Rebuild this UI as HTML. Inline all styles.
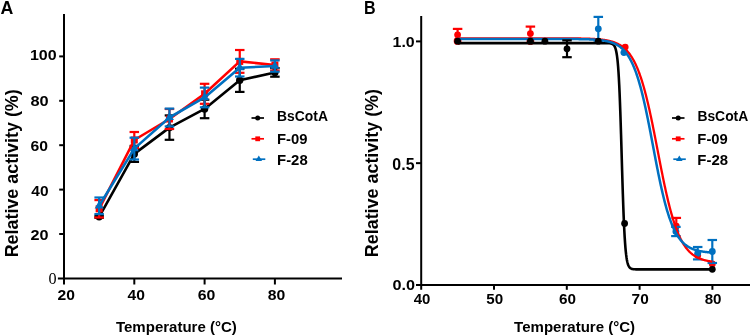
<!DOCTYPE html>
<html><head><meta charset="utf-8"><style>
html,body{margin:0;padding:0;background:#fff;}
svg{display:block;will-change:transform;}
text{font-family:"Liberation Sans",sans-serif;font-weight:bold;fill:#000;}
.tk{font-size:16px;}
.tk0{font-family:"Liberation Serif",serif;font-weight:normal;font-size:16px;}
.pl{font-size:18px;}
.yt{font-size:18px;}
.xt{font-size:15.1px;}
.lg{font-size:14.3px;}
</style></head><body>
<svg width="750" height="336" viewBox="0 0 750 336">
<rect width="750" height="336" fill="#fff"/>
<line x1="64.0" y1="14" x2="64.0" y2="284.5" stroke="#000" stroke-width="2"/>
<line x1="57.9" y1="278.4" x2="342" y2="278.4" stroke="#000" stroke-width="2"/>
<line x1="59.2" y1="234.00" x2="64.0" y2="234.00" stroke="#000" stroke-width="2"/>
<line x1="59.2" y1="189.60" x2="64.0" y2="189.60" stroke="#000" stroke-width="2"/>
<line x1="59.2" y1="145.20" x2="64.0" y2="145.20" stroke="#000" stroke-width="2"/>
<line x1="59.2" y1="100.80" x2="64.0" y2="100.80" stroke="#000" stroke-width="2"/>
<line x1="59.2" y1="56.40" x2="64.0" y2="56.40" stroke="#000" stroke-width="2"/>
<line x1="134.30" y1="278.4" x2="134.30" y2="284.5" stroke="#000" stroke-width="2"/>
<line x1="204.60" y1="278.4" x2="204.60" y2="284.5" stroke="#000" stroke-width="2"/>
<line x1="274.90" y1="278.4" x2="274.90" y2="284.5" stroke="#000" stroke-width="2"/>
<text transform="translate(30.53,240.25) scale(1.0671,1)" style="font-family:'Liberation Sans',sans-serif;font-weight:bold;font-size:15.21px">20</text>
<text transform="translate(31.37,196.05) scale(0.9972,1)" style="font-family:'Liberation Sans',sans-serif;font-weight:bold;font-size:15.49px">40</text>
<text transform="translate(30.45,150.65) scale(1.0258,1)" style="font-family:'Liberation Sans',sans-serif;font-weight:bold;font-size:15.35px">60</text>
<text transform="translate(30.41,106.35) scale(1.0551,1)" style="font-family:'Liberation Sans',sans-serif;font-weight:bold;font-size:15.49px">80</text>
<text transform="translate(29.96,60.45) scale(1.0439,1)" style="font-family:'Liberation Sans',sans-serif;font-weight:bold;font-size:15.35px">100</text>
<text transform="translate(48.45,283.84) scale(1.0119,1)" style="font-family:'Liberation Serif',serif;font-weight:normal;font-size:16.00px">0</text>
<text transform="translate(57.45,300.25) scale(1.0386,1)" style="font-family:'Liberation Sans',sans-serif;font-weight:bold;font-size:15.07px">20</text>
<text transform="translate(127.57,300.35) scale(1.0378,1)" style="font-family:'Liberation Sans',sans-serif;font-weight:bold;font-size:15.07px">40</text>
<text transform="translate(197.65,300.35) scale(1.0514,1)" style="font-family:'Liberation Sans',sans-serif;font-weight:bold;font-size:15.07px">60</text>
<text transform="translate(267.63,300.35) scale(1.0464,1)" style="font-family:'Liberation Sans',sans-serif;font-weight:bold;font-size:15.07px">80</text>
<line x1="421.2" y1="16" x2="421.2" y2="289.8" stroke="#000" stroke-width="2"/>
<line x1="416" y1="284.9" x2="750" y2="284.9" stroke="#000" stroke-width="2"/>
<line x1="416" y1="163.15" x2="421.2" y2="163.15" stroke="#000" stroke-width="2"/>
<line x1="416" y1="41.40" x2="421.2" y2="41.40" stroke="#000" stroke-width="2"/>
<line x1="494.00" y1="284.9" x2="494.00" y2="289.8" stroke="#000" stroke-width="2"/>
<line x1="566.80" y1="284.9" x2="566.80" y2="289.8" stroke="#000" stroke-width="2"/>
<line x1="639.60" y1="284.9" x2="639.60" y2="289.8" stroke="#000" stroke-width="2"/>
<line x1="712.40" y1="284.9" x2="712.40" y2="289.8" stroke="#000" stroke-width="2"/>
<text transform="translate(392.45,289.65) scale(1.0789,1)" style="font-family:'Liberation Sans',sans-serif;font-weight:bold;font-size:15.07px">0.0</text>
<text transform="translate(392.36,169.94) scale(1.0006,1)" style="font-family:'Liberation Sans',sans-serif;font-weight:bold;font-size:15.92px">0.5</text>
<text transform="translate(392.56,47.05) scale(1.0586,1)" style="font-family:'Liberation Sans',sans-serif;font-weight:bold;font-size:15.07px">1.0</text>
<text transform="translate(413.68,303.95) scale(0.9938,1)" style="font-family:'Liberation Sans',sans-serif;font-weight:bold;font-size:15.07px">40</text>
<text transform="translate(486.24,303.95) scale(1.0081,1)" style="font-family:'Liberation Sans',sans-serif;font-weight:bold;font-size:15.07px">50</text>
<text transform="translate(558.97,303.95) scale(1.0130,1)" style="font-family:'Liberation Sans',sans-serif;font-weight:bold;font-size:15.07px">60</text>
<text transform="translate(631.61,303.95) scale(1.0228,1)" style="font-family:'Liberation Sans',sans-serif;font-weight:bold;font-size:15.07px">70</text>
<text transform="translate(704.64,303.95) scale(1.0081,1)" style="font-family:'Liberation Sans',sans-serif;font-weight:bold;font-size:15.07px">80</text>
<text transform="translate(0.56,13.50) scale(0.9500,1)" style="font-family:'Liberation Sans',sans-serif;font-weight:bold;font-size:18.70px">A</text>
<text transform="translate(364.06,13.60) scale(0.8593,1)" style="font-family:'Liberation Sans',sans-serif;font-weight:bold;font-size:18.70px">B</text>
<text transform="translate(18.00,257.36) rotate(-90) scale(0.9654,1)" style="font-family:'Liberation Sans',sans-serif;font-weight:bold;font-size:18.55px">Relative activity (%)</text>
<text transform="translate(378.00,257.16) rotate(-90) scale(0.9660,1)" style="font-family:'Liberation Sans',sans-serif;font-weight:bold;font-size:18.55px">Relative activity (%)</text>
<text transform="translate(115.95,331.75) scale(0.9743,1)" style="font-family:'Liberation Sans',sans-serif;font-weight:bold;font-size:15.43px">Temperature (°C)</text>
<text transform="translate(514.10,331.80) scale(0.9697,1)" style="font-family:'Liberation Sans',sans-serif;font-weight:bold;font-size:15.51px">Temperature (°C)</text>
<polyline points="99.15,216.80 134.30,153.90 169.45,127.60 204.60,108.95 239.75,80.30 274.90,72.40" fill="none" stroke="#000000" stroke-width="2.6" stroke-linejoin="round"/>
<line x1="99.15" y1="215.80" x2="99.15" y2="217.80" stroke="#000000" stroke-width="2.2"/><line x1="94.40" y1="215.80" x2="103.90" y2="215.80" stroke="#000000" stroke-width="2.2"/><line x1="94.40" y1="217.80" x2="103.90" y2="217.80" stroke="#000000" stroke-width="2.2"/>
<circle cx="99.15" cy="216.80" r="3.7" fill="#000000"/>
<line x1="134.30" y1="145.90" x2="134.30" y2="161.90" stroke="#000000" stroke-width="2.2"/><line x1="129.55" y1="145.90" x2="139.05" y2="145.90" stroke="#000000" stroke-width="2.2"/><line x1="129.55" y1="161.90" x2="139.05" y2="161.90" stroke="#000000" stroke-width="2.2"/>
<circle cx="134.30" cy="153.90" r="3.7" fill="#000000"/>
<line x1="169.45" y1="115.40" x2="169.45" y2="139.80" stroke="#000000" stroke-width="2.2"/><line x1="164.70" y1="115.40" x2="174.20" y2="115.40" stroke="#000000" stroke-width="2.2"/><line x1="164.70" y1="139.80" x2="174.20" y2="139.80" stroke="#000000" stroke-width="2.2"/>
<circle cx="169.45" cy="127.60" r="3.7" fill="#000000"/>
<line x1="204.60" y1="99.70" x2="204.60" y2="118.20" stroke="#000000" stroke-width="2.2"/><line x1="199.85" y1="99.70" x2="209.35" y2="99.70" stroke="#000000" stroke-width="2.2"/><line x1="199.85" y1="118.20" x2="209.35" y2="118.20" stroke="#000000" stroke-width="2.2"/>
<circle cx="204.60" cy="108.95" r="3.7" fill="#000000"/>
<line x1="239.75" y1="68.70" x2="239.75" y2="91.90" stroke="#000000" stroke-width="2.2"/><line x1="235.00" y1="68.70" x2="244.50" y2="68.70" stroke="#000000" stroke-width="2.2"/><line x1="235.00" y1="91.90" x2="244.50" y2="91.90" stroke="#000000" stroke-width="2.2"/>
<circle cx="239.75" cy="80.30" r="3.7" fill="#000000"/>
<line x1="274.90" y1="68.10" x2="274.90" y2="76.70" stroke="#000000" stroke-width="2.2"/><line x1="270.15" y1="68.10" x2="279.65" y2="68.10" stroke="#000000" stroke-width="2.2"/><line x1="270.15" y1="76.70" x2="279.65" y2="76.70" stroke="#000000" stroke-width="2.2"/>
<circle cx="274.90" cy="72.40" r="3.7" fill="#000000"/>
<polyline points="99.15,208.80 134.30,140.00 169.45,119.00 204.60,93.80 239.75,61.40 274.90,64.95" fill="none" stroke="#ff0000" stroke-width="2.6" stroke-linejoin="round"/>
<line x1="99.15" y1="200.10" x2="99.15" y2="217.50" stroke="#ff0000" stroke-width="2.2"/><line x1="94.40" y1="200.10" x2="103.90" y2="200.10" stroke="#ff0000" stroke-width="2.2"/><line x1="94.40" y1="217.50" x2="103.90" y2="217.50" stroke="#ff0000" stroke-width="2.2"/>
<rect x="95.65" y="205.30" width="7" height="7" fill="#ff0000"/>
<line x1="134.30" y1="132.00" x2="134.30" y2="148.00" stroke="#ff0000" stroke-width="2.2"/><line x1="129.55" y1="132.00" x2="139.05" y2="132.00" stroke="#ff0000" stroke-width="2.2"/><line x1="129.55" y1="148.00" x2="139.05" y2="148.00" stroke="#ff0000" stroke-width="2.2"/>
<rect x="130.80" y="136.50" width="7" height="7" fill="#ff0000"/>
<line x1="169.45" y1="109.00" x2="169.45" y2="129.00" stroke="#ff0000" stroke-width="2.2"/><line x1="164.70" y1="109.00" x2="174.20" y2="109.00" stroke="#ff0000" stroke-width="2.2"/><line x1="164.70" y1="129.00" x2="174.20" y2="129.00" stroke="#ff0000" stroke-width="2.2"/>
<rect x="165.95" y="115.50" width="7" height="7" fill="#ff0000"/>
<line x1="204.60" y1="83.80" x2="204.60" y2="103.80" stroke="#ff0000" stroke-width="2.2"/><line x1="199.85" y1="83.80" x2="209.35" y2="83.80" stroke="#ff0000" stroke-width="2.2"/><line x1="199.85" y1="103.80" x2="209.35" y2="103.80" stroke="#ff0000" stroke-width="2.2"/>
<rect x="201.10" y="90.30" width="7" height="7" fill="#ff0000"/>
<line x1="239.75" y1="50.00" x2="239.75" y2="72.80" stroke="#ff0000" stroke-width="2.2"/><line x1="235.00" y1="50.00" x2="244.50" y2="50.00" stroke="#ff0000" stroke-width="2.2"/><line x1="235.00" y1="72.80" x2="244.50" y2="72.80" stroke="#ff0000" stroke-width="2.2"/>
<rect x="236.25" y="57.90" width="7" height="7" fill="#ff0000"/>
<line x1="274.90" y1="59.30" x2="274.90" y2="70.60" stroke="#ff0000" stroke-width="2.2"/><line x1="270.15" y1="59.30" x2="279.65" y2="59.30" stroke="#ff0000" stroke-width="2.2"/><line x1="270.15" y1="70.60" x2="279.65" y2="70.60" stroke="#ff0000" stroke-width="2.2"/>
<rect x="271.40" y="61.45" width="7" height="7" fill="#ff0000"/>
<polyline points="99.15,205.80 134.30,148.60 169.45,117.50 204.60,97.45 239.75,67.70 274.90,66.05" fill="none" stroke="#0070c0" stroke-width="2.6" stroke-linejoin="round"/>
<line x1="99.15" y1="197.50" x2="99.15" y2="214.10" stroke="#0070c0" stroke-width="2.2"/><line x1="94.40" y1="197.50" x2="103.90" y2="197.50" stroke="#0070c0" stroke-width="2.2"/><line x1="94.40" y1="214.10" x2="103.90" y2="214.10" stroke="#0070c0" stroke-width="2.2"/>
<polygon points="99.15,200.60 94.65,208.40 103.65,208.40" fill="#0070c0"/>
<line x1="134.30" y1="137.70" x2="134.30" y2="159.50" stroke="#0070c0" stroke-width="2.2"/><line x1="129.55" y1="137.70" x2="139.05" y2="137.70" stroke="#0070c0" stroke-width="2.2"/><line x1="129.55" y1="159.50" x2="139.05" y2="159.50" stroke="#0070c0" stroke-width="2.2"/>
<polygon points="134.30,143.40 129.80,151.20 138.80,151.20" fill="#0070c0"/>
<line x1="169.45" y1="108.60" x2="169.45" y2="126.40" stroke="#0070c0" stroke-width="2.2"/><line x1="164.70" y1="108.60" x2="174.20" y2="108.60" stroke="#0070c0" stroke-width="2.2"/><line x1="164.70" y1="126.40" x2="174.20" y2="126.40" stroke="#0070c0" stroke-width="2.2"/>
<polygon points="169.45,112.30 164.95,120.10 173.95,120.10" fill="#0070c0"/>
<line x1="204.60" y1="87.60" x2="204.60" y2="107.30" stroke="#0070c0" stroke-width="2.2"/><line x1="199.85" y1="87.60" x2="209.35" y2="87.60" stroke="#0070c0" stroke-width="2.2"/><line x1="199.85" y1="107.30" x2="209.35" y2="107.30" stroke="#0070c0" stroke-width="2.2"/>
<polygon points="204.60,92.25 200.10,100.05 209.10,100.05" fill="#0070c0"/>
<line x1="239.75" y1="58.90" x2="239.75" y2="76.50" stroke="#0070c0" stroke-width="2.2"/><line x1="235.00" y1="58.90" x2="244.50" y2="58.90" stroke="#0070c0" stroke-width="2.2"/><line x1="235.00" y1="76.50" x2="244.50" y2="76.50" stroke="#0070c0" stroke-width="2.2"/>
<polygon points="239.75,62.50 235.25,70.30 244.25,70.30" fill="#0070c0"/>
<line x1="274.90" y1="60.40" x2="274.90" y2="71.70" stroke="#0070c0" stroke-width="2.2"/><line x1="270.15" y1="60.40" x2="279.65" y2="60.40" stroke="#0070c0" stroke-width="2.2"/><line x1="270.15" y1="71.70" x2="279.65" y2="71.70" stroke="#0070c0" stroke-width="2.2"/>
<polygon points="274.90,60.85 270.40,68.65 279.40,68.65" fill="#0070c0"/>
<circle cx="457.60" cy="40.90" r="3.9" fill="#ff0000"/>
<circle cx="530.40" cy="40.90" r="3.9" fill="#ff0000"/>
<line x1="457.60" y1="28.90" x2="457.60" y2="34.80" stroke="#ff0000" stroke-width="2.2"/><line x1="452.85" y1="28.90" x2="462.35" y2="28.90" stroke="#ff0000" stroke-width="2.2"/>
<circle cx="457.60" cy="34.80" r="3.4" fill="#ff0000"/>
<line x1="530.40" y1="26.60" x2="530.40" y2="33.60" stroke="#ff0000" stroke-width="2.2"/><line x1="525.65" y1="26.60" x2="535.15" y2="26.60" stroke="#ff0000" stroke-width="2.2"/>
<circle cx="530.40" cy="33.60" r="3.4" fill="#ff0000"/>
<circle cx="625.20" cy="47.10" r="3.4" fill="#ff0000"/>
<line x1="676.30" y1="217.90" x2="676.30" y2="226.20" stroke="#ff0000" stroke-width="2.2"/><line x1="671.55" y1="217.90" x2="681.05" y2="217.90" stroke="#ff0000" stroke-width="2.2"/>
<circle cx="676.30" cy="226.20" r="3.4" fill="#ff0000"/>
<circle cx="697.70" cy="255.50" r="3.4" fill="#ff0000"/>
<circle cx="712.30" cy="264.00" r="3.4" fill="#ff0000"/>
<line x1="598.30" y1="16.90" x2="598.30" y2="40.70" stroke="#0070c0" stroke-width="2.2"/><line x1="593.55" y1="16.90" x2="603.05" y2="16.90" stroke="#0070c0" stroke-width="2.2"/><line x1="593.55" y1="40.70" x2="603.05" y2="40.70" stroke="#0070c0" stroke-width="2.2"/>
<circle cx="598.30" cy="28.80" r="3.4" fill="#0070c0"/>
<circle cx="623.90" cy="52.60" r="3.4" fill="#0070c0"/>
<line x1="675.90" y1="226.90" x2="675.90" y2="236.10" stroke="#0070c0" stroke-width="2.2"/><line x1="671.15" y1="226.90" x2="680.65" y2="226.90" stroke="#0070c0" stroke-width="2.2"/><line x1="671.15" y1="236.10" x2="680.65" y2="236.10" stroke="#0070c0" stroke-width="2.2"/>
<circle cx="675.90" cy="231.50" r="3.4" fill="#0070c0"/>
<line x1="697.70" y1="247.00" x2="697.70" y2="259.40" stroke="#0070c0" stroke-width="2.2"/><line x1="692.95" y1="247.00" x2="702.45" y2="247.00" stroke="#0070c0" stroke-width="2.2"/><line x1="692.95" y1="259.40" x2="702.45" y2="259.40" stroke="#0070c0" stroke-width="2.2"/>
<circle cx="697.70" cy="253.20" r="3.4" fill="#0070c0"/>
<line x1="712.30" y1="240.00" x2="712.30" y2="263.00" stroke="#0070c0" stroke-width="2.2"/><line x1="707.55" y1="240.00" x2="717.05" y2="240.00" stroke="#0070c0" stroke-width="2.2"/><line x1="707.55" y1="263.00" x2="717.05" y2="263.00" stroke="#0070c0" stroke-width="2.2"/>
<circle cx="712.30" cy="251.50" r="3.4" fill="#0070c0"/>
<polyline points="457.60,43.15 457.96,43.15 458.33,43.15 458.69,43.15 459.06,43.15 459.42,43.15 459.78,43.15 460.15,43.15 460.51,43.15 460.88,43.15 461.24,43.15 461.60,43.15 461.97,43.15 462.33,43.15 462.70,43.15 463.06,43.15 463.42,43.15 463.79,43.15 464.15,43.15 464.52,43.15 464.88,43.15 465.24,43.15 465.61,43.15 465.97,43.15 466.34,43.15 466.70,43.15 467.06,43.15 467.43,43.15 467.79,43.15 468.16,43.15 468.52,43.15 468.88,43.15 469.25,43.15 469.61,43.15 469.98,43.15 470.34,43.15 470.70,43.15 471.07,43.15 471.43,43.15 471.80,43.15 472.16,43.15 472.52,43.15 472.89,43.15 473.25,43.15 473.62,43.15 473.98,43.15 474.34,43.15 474.71,43.15 475.07,43.15 475.44,43.15 475.80,43.15 476.16,43.15 476.53,43.15 476.89,43.15 477.26,43.15 477.62,43.15 477.98,43.15 478.35,43.15 478.71,43.15 479.08,43.15 479.44,43.15 479.80,43.15 480.17,43.15 480.53,43.15 480.90,43.15 481.26,43.15 481.62,43.15 481.99,43.15 482.35,43.15 482.72,43.15 483.08,43.15 483.44,43.15 483.81,43.15 484.17,43.15 484.54,43.15 484.90,43.15 485.26,43.15 485.63,43.15 485.99,43.15 486.36,43.15 486.72,43.15 487.08,43.15 487.45,43.15 487.81,43.15 488.18,43.15 488.54,43.15 488.90,43.15 489.27,43.15 489.63,43.15 490.00,43.15 490.36,43.15 490.72,43.15 491.09,43.15 491.45,43.15 491.82,43.15 492.18,43.15 492.54,43.15 492.91,43.15 493.27,43.15 493.64,43.15 494.00,43.15 494.36,43.15 494.73,43.15 495.09,43.15 495.46,43.15 495.82,43.15 496.18,43.15 496.55,43.15 496.91,43.15 497.28,43.15 497.64,43.15 498.00,43.15 498.37,43.15 498.73,43.15 499.10,43.15 499.46,43.15 499.82,43.15 500.19,43.15 500.55,43.15 500.92,43.15 501.28,43.15 501.64,43.15 502.01,43.15 502.37,43.15 502.74,43.15 503.10,43.15 503.46,43.15 503.83,43.15 504.19,43.15 504.56,43.15 504.92,43.15 505.28,43.15 505.65,43.15 506.01,43.15 506.38,43.15 506.74,43.15 507.10,43.15 507.47,43.15 507.83,43.15 508.20,43.15 508.56,43.15 508.92,43.15 509.29,43.15 509.65,43.15 510.02,43.15 510.38,43.15 510.74,43.15 511.11,43.15 511.47,43.15 511.84,43.15 512.20,43.15 512.56,43.15 512.93,43.15 513.29,43.15 513.66,43.15 514.02,43.15 514.38,43.15 514.75,43.15 515.11,43.15 515.48,43.15 515.84,43.15 516.20,43.15 516.57,43.15 516.93,43.15 517.30,43.15 517.66,43.15 518.02,43.15 518.39,43.15 518.75,43.15 519.12,43.15 519.48,43.15 519.84,43.15 520.21,43.15 520.57,43.15 520.94,43.15 521.30,43.15 521.66,43.15 522.03,43.15 522.39,43.15 522.76,43.15 523.12,43.15 523.48,43.15 523.85,43.15 524.21,43.15 524.58,43.15 524.94,43.15 525.30,43.15 525.67,43.15 526.03,43.15 526.40,43.15 526.76,43.15 527.12,43.15 527.49,43.15 527.85,43.15 528.22,43.15 528.58,43.15 528.94,43.15 529.31,43.15 529.67,43.15 530.04,43.15 530.40,43.15 530.76,43.15 531.13,43.15 531.49,43.15 531.86,43.15 532.22,43.15 532.58,43.15 532.95,43.15 533.31,43.15 533.68,43.15 534.04,43.15 534.40,43.15 534.77,43.15 535.13,43.15 535.50,43.15 535.86,43.15 536.22,43.15 536.59,43.15 536.95,43.15 537.32,43.15 537.68,43.15 538.04,43.15 538.41,43.15 538.77,43.15 539.14,43.15 539.50,43.15 539.86,43.15 540.23,43.15 540.59,43.15 540.96,43.15 541.32,43.15 541.68,43.15 542.05,43.15 542.41,43.15 542.78,43.15 543.14,43.15 543.50,43.15 543.87,43.15 544.23,43.15 544.60,43.15 544.96,43.15 545.32,43.15 545.69,43.15 546.05,43.15 546.42,43.15 546.78,43.15 547.14,43.15 547.51,43.15 547.87,43.15 548.24,43.15 548.60,43.15 548.96,43.15 549.33,43.15 549.69,43.15 550.06,43.15 550.42,43.15 550.78,43.15 551.15,43.15 551.51,43.15 551.88,43.15 552.24,43.15 552.60,43.15 552.97,43.15 553.33,43.15 553.70,43.15 554.06,43.15 554.42,43.15 554.79,43.15 555.15,43.15 555.52,43.15 555.88,43.15 556.24,43.15 556.61,43.15 556.97,43.15 557.34,43.15 557.70,43.15 558.06,43.15 558.43,43.15 558.79,43.15 559.16,43.15 559.52,43.15 559.88,43.15 560.25,43.15 560.61,43.15 560.98,43.15 561.34,43.15 561.70,43.15 562.07,43.15 562.43,43.15 562.80,43.15 563.16,43.15 563.52,43.15 563.89,43.15 564.25,43.15 564.62,43.15 564.98,43.15 565.34,43.15 565.71,43.15 566.07,43.15 566.44,43.15 566.80,43.15 567.16,43.15 567.53,43.15 567.89,43.15 568.26,43.15 568.62,43.15 568.98,43.15 569.35,43.15 569.71,43.15 570.08,43.15 570.44,43.15 570.80,43.15 571.17,43.15 571.53,43.15 571.90,43.15 572.26,43.15 572.62,43.15 572.99,43.15 573.35,43.15 573.72,43.15 574.08,43.15 574.44,43.15 574.81,43.15 575.17,43.15 575.54,43.15 575.90,43.15 576.26,43.15 576.63,43.15 576.99,43.15 577.36,43.15 577.72,43.15 578.08,43.15 578.45,43.15 578.81,43.15 579.18,43.15 579.54,43.15 579.90,43.15 580.27,43.15 580.63,43.15 581.00,43.15 581.36,43.15 581.72,43.15 582.09,43.15 582.45,43.15 582.82,43.15 583.18,43.15 583.54,43.15 583.91,43.15 584.27,43.15 584.64,43.15 585.00,43.15 585.36,43.15 585.73,43.15 586.09,43.15 586.46,43.15 586.82,43.15 587.18,43.15 587.55,43.15 587.91,43.15 588.28,43.15 588.64,43.15 589.00,43.15 589.37,43.15 589.73,43.15 590.10,43.15 590.46,43.15 590.82,43.15 591.19,43.15 591.55,43.15 591.92,43.15 592.28,43.15 592.64,43.15 593.01,43.15 593.37,43.15 593.74,43.15 594.10,43.15 594.46,43.15 594.83,43.15 595.19,43.15 595.56,43.15 595.92,43.15 596.28,43.15 596.65,43.15 597.01,43.15 597.38,43.15 597.74,43.15 598.10,43.15 598.47,43.15 598.83,43.15 599.20,43.15 599.56,43.15 599.92,43.15 600.29,43.15 600.65,43.15 601.02,43.15 601.38,43.15 601.74,43.15 602.11,43.15 602.47,43.16 602.84,43.16 603.20,43.16 603.56,43.16 603.93,43.16 604.29,43.16 604.66,43.16 605.02,43.16 605.38,43.17 605.75,43.17 606.11,43.17 606.48,43.18 606.84,43.18 607.20,43.19 607.57,43.20 607.93,43.21 608.30,43.23 608.66,43.24 609.02,43.27 609.39,43.29 609.75,43.33 610.12,43.37 610.48,43.42 610.84,43.49 611.21,43.57 611.57,43.67 611.94,43.80 612.30,43.96 612.66,44.15 613.03,44.39 613.39,44.69 613.76,45.07 614.12,45.53 614.48,46.10 614.85,46.81 615.21,47.69 615.58,48.77 615.94,50.10 616.30,51.73 616.67,53.72 617.03,56.16 617.40,59.11 617.76,62.67 618.12,66.93 618.49,72.00 618.85,77.96 619.22,84.90 619.58,92.85 619.94,101.84 620.31,111.83 620.67,122.70 621.04,134.31 621.40,146.41 621.76,158.74 622.13,171.02 622.49,182.95 622.86,194.29 623.22,204.82 623.58,214.42 623.95,222.99 624.31,230.54 624.68,237.08 625.04,242.67 625.40,247.40 625.77,251.38 626.13,254.68 626.50,257.42 626.86,259.67 627.22,261.51 627.59,263.01 627.95,264.23 628.32,265.23 628.68,266.03 629.04,266.68 629.41,267.21 629.77,267.63 630.14,267.98 630.50,268.25 630.86,268.47 631.23,268.65 631.59,268.80 631.96,268.91 632.32,269.01 632.68,269.08 633.05,269.14 633.41,269.19 633.78,269.23 634.14,269.26 634.50,269.29 634.87,269.31 635.23,269.32 635.60,269.34 635.96,269.35 636.32,269.35 636.69,269.36 637.05,269.37 637.42,269.37 637.78,269.37 638.14,269.38 638.51,269.38 638.87,269.38 639.24,269.38 639.60,269.38 639.96,269.39 640.33,269.39 640.69,269.39 641.06,269.39 641.42,269.39 641.78,269.39 642.15,269.39 642.51,269.39 642.88,269.39 643.24,269.39 643.60,269.39 643.97,269.39 644.33,269.39 644.70,269.39 645.06,269.39 645.42,269.39 645.79,269.39 646.15,269.39 646.52,269.39 646.88,269.39 647.24,269.39 647.61,269.39 647.97,269.39 648.34,269.39 648.70,269.39 649.06,269.39 649.43,269.39 649.79,269.39 650.16,269.39 650.52,269.39 650.88,269.39 651.25,269.39 651.61,269.39 651.98,269.39 652.34,269.39 652.70,269.39 653.07,269.39 653.43,269.39 653.80,269.39 654.16,269.39 654.52,269.39 654.89,269.39 655.25,269.39 655.62,269.39 655.98,269.39 656.34,269.39 656.71,269.39 657.07,269.39 657.44,269.39 657.80,269.39 658.16,269.39 658.53,269.39 658.89,269.39 659.26,269.39 659.62,269.39 659.98,269.39 660.35,269.39 660.71,269.39 661.08,269.39 661.44,269.39 661.80,269.39 662.17,269.39 662.53,269.39 662.90,269.39 663.26,269.39 663.62,269.39 663.99,269.39 664.35,269.39 664.72,269.39 665.08,269.39 665.44,269.39 665.81,269.39 666.17,269.39 666.54,269.39 666.90,269.39 667.26,269.39 667.63,269.39 667.99,269.39 668.36,269.39 668.72,269.39 669.08,269.39 669.45,269.39 669.81,269.39 670.18,269.39 670.54,269.39 670.90,269.39 671.27,269.39 671.63,269.39 672.00,269.39 672.36,269.39 672.72,269.39 673.09,269.39 673.45,269.39 673.82,269.39 674.18,269.39 674.54,269.39 674.91,269.39 675.27,269.39 675.64,269.39 676.00,269.39 676.36,269.39 676.73,269.39 677.09,269.39 677.46,269.39 677.82,269.39 678.18,269.39 678.55,269.39 678.91,269.39 679.28,269.39 679.64,269.39 680.00,269.39 680.37,269.39 680.73,269.39 681.10,269.39 681.46,269.39 681.82,269.39 682.19,269.39 682.55,269.39 682.92,269.39 683.28,269.39 683.64,269.39 684.01,269.39 684.37,269.39 684.74,269.39 685.10,269.39 685.46,269.39 685.83,269.39 686.19,269.39 686.56,269.39 686.92,269.39 687.28,269.39 687.65,269.39 688.01,269.39 688.38,269.39 688.74,269.39 689.10,269.39 689.47,269.39 689.83,269.39 690.20,269.39 690.56,269.39 690.92,269.39 691.29,269.39 691.65,269.39 692.02,269.39 692.38,269.39 692.74,269.39 693.11,269.39 693.47,269.39 693.84,269.39 694.20,269.39 694.56,269.39 694.93,269.39 695.29,269.39 695.66,269.39 696.02,269.39 696.38,269.39 696.75,269.39 697.11,269.39 697.48,269.39 697.84,269.39 698.20,269.39 698.57,269.39 698.93,269.39 699.30,269.39 699.66,269.39 700.02,269.39 700.39,269.39 700.75,269.39 701.12,269.39 701.48,269.39 701.84,269.39 702.21,269.39 702.57,269.39 702.94,269.39 703.30,269.39 703.66,269.39 704.03,269.39 704.39,269.39 704.76,269.39 705.12,269.39 705.48,269.39 705.85,269.39 706.21,269.39 706.58,269.39 706.94,269.39 707.30,269.39 707.67,269.39 708.03,269.39 708.40,269.39 708.76,269.39 709.12,269.39 709.49,269.39 709.85,269.39 710.22,269.39 710.58,269.39 710.94,269.39 711.31,269.39 711.67,269.39 712.04,269.39 712.40,269.39" fill="none" stroke="#000000" stroke-width="2.6"/>
<polyline points="457.60,38.33 457.96,38.33 458.33,38.33 458.69,38.33 459.06,38.33 459.42,38.33 459.78,38.33 460.15,38.33 460.51,38.33 460.88,38.33 461.24,38.33 461.60,38.33 461.97,38.33 462.33,38.33 462.70,38.33 463.06,38.33 463.42,38.33 463.79,38.33 464.15,38.33 464.52,38.33 464.88,38.33 465.24,38.33 465.61,38.33 465.97,38.33 466.34,38.33 466.70,38.33 467.06,38.33 467.43,38.33 467.79,38.33 468.16,38.33 468.52,38.33 468.88,38.33 469.25,38.33 469.61,38.33 469.98,38.33 470.34,38.33 470.70,38.33 471.07,38.33 471.43,38.33 471.80,38.33 472.16,38.33 472.52,38.33 472.89,38.33 473.25,38.33 473.62,38.33 473.98,38.33 474.34,38.33 474.71,38.33 475.07,38.33 475.44,38.33 475.80,38.33 476.16,38.33 476.53,38.33 476.89,38.33 477.26,38.33 477.62,38.33 477.98,38.33 478.35,38.33 478.71,38.33 479.08,38.33 479.44,38.33 479.80,38.33 480.17,38.33 480.53,38.33 480.90,38.33 481.26,38.33 481.62,38.33 481.99,38.33 482.35,38.33 482.72,38.33 483.08,38.33 483.44,38.33 483.81,38.33 484.17,38.33 484.54,38.33 484.90,38.33 485.26,38.33 485.63,38.33 485.99,38.33 486.36,38.33 486.72,38.33 487.08,38.33 487.45,38.33 487.81,38.33 488.18,38.33 488.54,38.33 488.90,38.33 489.27,38.33 489.63,38.33 490.00,38.33 490.36,38.33 490.72,38.33 491.09,38.33 491.45,38.33 491.82,38.33 492.18,38.33 492.54,38.33 492.91,38.33 493.27,38.33 493.64,38.33 494.00,38.33 494.36,38.33 494.73,38.33 495.09,38.33 495.46,38.33 495.82,38.33 496.18,38.33 496.55,38.33 496.91,38.33 497.28,38.33 497.64,38.33 498.00,38.33 498.37,38.33 498.73,38.33 499.10,38.33 499.46,38.33 499.82,38.33 500.19,38.33 500.55,38.33 500.92,38.33 501.28,38.33 501.64,38.33 502.01,38.33 502.37,38.33 502.74,38.33 503.10,38.33 503.46,38.33 503.83,38.33 504.19,38.33 504.56,38.33 504.92,38.33 505.28,38.33 505.65,38.33 506.01,38.33 506.38,38.33 506.74,38.33 507.10,38.33 507.47,38.33 507.83,38.33 508.20,38.33 508.56,38.33 508.92,38.33 509.29,38.33 509.65,38.33 510.02,38.33 510.38,38.33 510.74,38.33 511.11,38.33 511.47,38.33 511.84,38.33 512.20,38.33 512.56,38.33 512.93,38.33 513.29,38.33 513.66,38.33 514.02,38.33 514.38,38.33 514.75,38.33 515.11,38.33 515.48,38.33 515.84,38.33 516.20,38.33 516.57,38.33 516.93,38.33 517.30,38.33 517.66,38.33 518.02,38.33 518.39,38.33 518.75,38.33 519.12,38.33 519.48,38.33 519.84,38.33 520.21,38.33 520.57,38.33 520.94,38.33 521.30,38.33 521.66,38.33 522.03,38.33 522.39,38.33 522.76,38.33 523.12,38.33 523.48,38.33 523.85,38.33 524.21,38.33 524.58,38.33 524.94,38.33 525.30,38.33 525.67,38.33 526.03,38.33 526.40,38.33 526.76,38.33 527.12,38.33 527.49,38.33 527.85,38.33 528.22,38.33 528.58,38.33 528.94,38.33 529.31,38.33 529.67,38.33 530.04,38.33 530.40,38.33 530.76,38.33 531.13,38.33 531.49,38.33 531.86,38.33 532.22,38.33 532.58,38.33 532.95,38.33 533.31,38.33 533.68,38.33 534.04,38.33 534.40,38.33 534.77,38.33 535.13,38.33 535.50,38.33 535.86,38.33 536.22,38.33 536.59,38.34 536.95,38.34 537.32,38.34 537.68,38.34 538.04,38.34 538.41,38.34 538.77,38.34 539.14,38.34 539.50,38.34 539.86,38.34 540.23,38.34 540.59,38.34 540.96,38.34 541.32,38.34 541.68,38.34 542.05,38.34 542.41,38.34 542.78,38.34 543.14,38.34 543.50,38.34 543.87,38.34 544.23,38.34 544.60,38.34 544.96,38.34 545.32,38.34 545.69,38.34 546.05,38.34 546.42,38.34 546.78,38.34 547.14,38.34 547.51,38.34 547.87,38.34 548.24,38.34 548.60,38.34 548.96,38.34 549.33,38.34 549.69,38.34 550.06,38.34 550.42,38.34 550.78,38.34 551.15,38.34 551.51,38.34 551.88,38.34 552.24,38.35 552.60,38.35 552.97,38.35 553.33,38.35 553.70,38.35 554.06,38.35 554.42,38.35 554.79,38.35 555.15,38.35 555.52,38.35 555.88,38.35 556.24,38.35 556.61,38.35 556.97,38.35 557.34,38.35 557.70,38.35 558.06,38.35 558.43,38.36 558.79,38.36 559.16,38.36 559.52,38.36 559.88,38.36 560.25,38.36 560.61,38.36 560.98,38.36 561.34,38.36 561.70,38.36 562.07,38.37 562.43,38.37 562.80,38.37 563.16,38.37 563.52,38.37 563.89,38.37 564.25,38.37 564.62,38.37 564.98,38.38 565.34,38.38 565.71,38.38 566.07,38.38 566.44,38.38 566.80,38.38 567.16,38.39 567.53,38.39 567.89,38.39 568.26,38.39 568.62,38.39 568.98,38.40 569.35,38.40 569.71,38.40 570.08,38.40 570.44,38.40 570.80,38.41 571.17,38.41 571.53,38.41 571.90,38.41 572.26,38.42 572.62,38.42 572.99,38.42 573.35,38.43 573.72,38.43 574.08,38.43 574.44,38.44 574.81,38.44 575.17,38.44 575.54,38.45 575.90,38.45 576.26,38.46 576.63,38.46 576.99,38.46 577.36,38.47 577.72,38.47 578.08,38.48 578.45,38.48 578.81,38.49 579.18,38.49 579.54,38.50 579.90,38.50 580.27,38.51 580.63,38.52 581.00,38.52 581.36,38.53 581.72,38.54 582.09,38.54 582.45,38.55 582.82,38.56 583.18,38.57 583.54,38.57 583.91,38.58 584.27,38.59 584.64,38.60 585.00,38.61 585.36,38.62 585.73,38.63 586.09,38.64 586.46,38.65 586.82,38.66 587.18,38.67 587.55,38.68 587.91,38.69 588.28,38.71 588.64,38.72 589.00,38.73 589.37,38.74 589.73,38.76 590.10,38.77 590.46,38.79 590.82,38.80 591.19,38.82 591.55,38.84 591.92,38.85 592.28,38.87 592.64,38.89 593.01,38.91 593.37,38.93 593.74,38.95 594.10,38.97 594.46,38.99 594.83,39.01 595.19,39.04 595.56,39.06 595.92,39.09 596.28,39.11 596.65,39.14 597.01,39.17 597.38,39.19 597.74,39.22 598.10,39.25 598.47,39.28 598.83,39.32 599.20,39.35 599.56,39.38 599.92,39.42 600.29,39.46 600.65,39.50 601.02,39.53 601.38,39.58 601.74,39.62 602.11,39.66 602.47,39.71 602.84,39.75 603.20,39.80 603.56,39.85 603.93,39.90 604.29,39.96 604.66,40.01 605.02,40.07 605.38,40.13 605.75,40.19 606.11,40.25 606.48,40.32 606.84,40.38 607.20,40.45 607.57,40.52 607.93,40.60 608.30,40.67 608.66,40.75 609.02,40.83 609.39,40.92 609.75,41.01 610.12,41.10 610.48,41.19 610.84,41.29 611.21,41.39 611.57,41.49 611.94,41.59 612.30,41.70 612.66,41.82 613.03,41.93 613.39,42.05 613.76,42.18 614.12,42.31 614.48,42.44 614.85,42.58 615.21,42.72 615.58,42.87 615.94,43.02 616.30,43.18 616.67,43.34 617.03,43.51 617.40,43.68 617.76,43.86 618.12,44.04 618.49,44.23 618.85,44.42 619.22,44.63 619.58,44.84 619.94,45.05 620.31,45.27 620.67,45.50 621.04,45.74 621.40,45.98 621.76,46.23 622.13,46.49 622.49,46.76 622.86,47.04 623.22,47.32 623.58,47.62 623.95,47.92 624.31,48.24 624.68,48.56 625.04,48.89 625.40,49.23 625.77,49.59 626.13,49.95 626.50,50.33 626.86,50.71 627.22,51.11 627.59,51.52 627.95,51.94 628.32,52.38 628.68,52.83 629.04,53.29 629.41,53.77 629.77,54.26 630.14,54.76 630.50,55.28 630.86,55.81 631.23,56.36 631.59,56.92 631.96,57.50 632.32,58.10 632.68,58.71 633.05,59.34 633.41,59.99 633.78,60.66 634.14,61.34 634.50,62.05 634.87,62.77 635.23,63.51 635.60,64.27 635.96,65.05 636.32,65.85 636.69,66.67 637.05,67.51 637.42,68.37 637.78,69.26 638.14,70.16 638.51,71.09 638.87,72.04 639.24,73.01 639.60,74.01 639.96,75.03 640.33,76.07 640.69,77.13 641.06,78.22 641.42,79.34 641.78,80.47 642.15,81.63 642.51,82.82 642.88,84.03 643.24,85.26 643.60,86.52 643.97,87.80 644.33,89.11 644.70,90.44 645.06,91.80 645.42,93.18 645.79,94.58 646.15,96.01 646.52,97.46 646.88,98.93 647.24,100.43 647.61,101.95 647.97,103.49 648.34,105.05 648.70,106.64 649.06,108.24 649.43,109.87 649.79,111.52 650.16,113.18 650.52,114.87 650.88,116.57 651.25,118.29 651.61,120.03 651.98,121.78 652.34,123.55 652.70,125.33 653.07,127.13 653.43,128.94 653.80,130.76 654.16,132.59 654.52,134.43 654.89,136.28 655.25,138.14 655.62,140.00 655.98,141.87 656.34,143.75 656.71,145.63 657.07,147.51 657.44,149.40 657.80,151.29 658.16,153.17 658.53,155.05 658.89,156.94 659.26,158.81 659.62,160.69 659.98,162.56 660.35,164.42 660.71,166.27 661.08,168.12 661.44,169.95 661.80,171.78 662.17,173.59 662.53,175.39 662.90,177.18 663.26,178.95 663.62,180.71 663.99,182.46 664.35,184.18 664.72,185.89 665.08,187.58 665.44,189.26 665.81,190.91 666.17,192.55 666.54,194.16 666.90,195.75 667.26,197.33 667.63,198.88 667.99,200.41 668.36,201.91 668.72,203.39 669.08,204.85 669.45,206.29 669.81,207.70 670.18,209.09 670.54,210.46 670.90,211.80 671.27,213.11 671.63,214.41 672.00,215.67 672.36,216.92 672.72,218.14 673.09,219.33 673.45,220.50 673.82,221.65 674.18,222.77 674.54,223.87 674.91,224.95 675.27,226.00 675.64,227.03 676.00,228.03 676.36,229.01 676.73,229.97 677.09,230.91 677.46,231.82 677.82,232.72 678.18,233.59 678.55,234.44 678.91,235.27 679.28,236.07 679.64,236.86 680.00,237.63 680.37,238.38 680.73,239.11 681.10,239.82 681.46,240.51 681.82,241.18 682.19,241.84 682.55,242.47 682.92,243.09 683.28,243.70 683.64,244.28 684.01,244.86 684.37,245.41 684.74,245.95 685.10,246.47 685.46,246.98 685.83,247.48 686.19,247.96 686.56,248.43 686.92,248.88 687.28,249.32 687.65,249.75 688.01,250.16 688.38,250.57 688.74,250.96 689.10,251.34 689.47,251.71 689.83,252.07 690.20,252.41 690.56,252.75 690.92,253.08 691.29,253.39 691.65,253.70 692.02,254.00 692.38,254.29 692.74,254.57 693.11,254.84 693.47,255.10 693.84,255.36 694.20,255.60 694.56,255.84 694.93,256.08 695.29,256.30 695.66,256.52 696.02,256.73 696.38,256.93 696.75,257.13 697.11,257.32 697.48,257.51 697.84,257.69 698.20,257.87 698.57,258.03 698.93,258.20 699.30,258.36 699.66,258.51 700.02,258.66 700.39,258.80 700.75,258.94 701.12,259.08 701.48,259.21 701.84,259.33 702.21,259.46 702.57,259.58 702.94,259.69 703.30,259.80 703.66,259.91 704.03,260.01 704.39,260.11 704.76,260.21 705.12,260.31 705.48,260.40 705.85,260.49 706.21,260.57 706.58,260.65 706.94,260.73 707.30,260.81 707.67,260.89 708.03,260.96 708.40,261.03 708.76,261.10 709.12,261.16 709.49,261.23 709.85,261.29 710.22,261.35 710.58,261.40 710.94,261.46 711.31,261.51 711.67,261.57 712.04,261.62 712.40,261.67" fill="none" stroke="#ff0000" stroke-width="2.3"/>
<polyline points="457.60,38.99 457.96,38.99 458.33,38.99 458.69,38.99 459.06,38.99 459.42,38.99 459.78,38.99 460.15,38.99 460.51,38.99 460.88,38.99 461.24,38.99 461.60,38.99 461.97,38.99 462.33,38.99 462.70,38.99 463.06,38.99 463.42,38.99 463.79,38.99 464.15,38.99 464.52,38.99 464.88,38.99 465.24,38.99 465.61,38.99 465.97,38.99 466.34,38.99 466.70,38.99 467.06,38.99 467.43,38.99 467.79,38.99 468.16,38.99 468.52,38.99 468.88,38.99 469.25,38.99 469.61,38.99 469.98,38.99 470.34,38.99 470.70,38.99 471.07,38.99 471.43,38.99 471.80,38.99 472.16,38.99 472.52,38.99 472.89,38.99 473.25,38.99 473.62,38.99 473.98,38.99 474.34,38.99 474.71,38.99 475.07,38.99 475.44,38.99 475.80,38.99 476.16,38.99 476.53,38.99 476.89,38.99 477.26,38.99 477.62,38.99 477.98,38.99 478.35,38.99 478.71,38.99 479.08,38.99 479.44,38.99 479.80,38.99 480.17,38.99 480.53,38.99 480.90,38.99 481.26,38.99 481.62,38.99 481.99,38.99 482.35,38.99 482.72,38.99 483.08,38.99 483.44,38.99 483.81,38.99 484.17,38.99 484.54,38.99 484.90,38.99 485.26,38.99 485.63,38.99 485.99,38.99 486.36,38.99 486.72,38.99 487.08,38.99 487.45,38.99 487.81,38.99 488.18,38.99 488.54,38.99 488.90,38.99 489.27,38.99 489.63,38.99 490.00,38.99 490.36,38.99 490.72,38.99 491.09,38.99 491.45,38.99 491.82,38.99 492.18,38.99 492.54,38.99 492.91,38.99 493.27,38.99 493.64,38.99 494.00,38.99 494.36,38.99 494.73,38.99 495.09,38.99 495.46,38.99 495.82,38.99 496.18,38.99 496.55,38.99 496.91,38.99 497.28,38.99 497.64,38.99 498.00,38.99 498.37,38.99 498.73,38.99 499.10,38.99 499.46,38.99 499.82,38.99 500.19,38.99 500.55,38.99 500.92,38.99 501.28,38.99 501.64,38.99 502.01,38.99 502.37,38.99 502.74,38.99 503.10,38.99 503.46,38.99 503.83,38.99 504.19,38.99 504.56,38.99 504.92,38.99 505.28,38.99 505.65,38.99 506.01,38.99 506.38,38.99 506.74,38.99 507.10,38.99 507.47,38.99 507.83,38.99 508.20,38.99 508.56,38.99 508.92,38.99 509.29,38.99 509.65,38.99 510.02,38.99 510.38,38.99 510.74,38.99 511.11,38.99 511.47,38.99 511.84,38.99 512.20,38.99 512.56,38.99 512.93,38.99 513.29,38.99 513.66,38.99 514.02,38.99 514.38,38.99 514.75,38.99 515.11,38.99 515.48,38.99 515.84,38.99 516.20,38.99 516.57,38.99 516.93,38.99 517.30,38.99 517.66,38.99 518.02,38.99 518.39,38.99 518.75,38.99 519.12,38.99 519.48,38.99 519.84,38.99 520.21,38.99 520.57,38.99 520.94,38.99 521.30,38.99 521.66,38.99 522.03,38.99 522.39,38.99 522.76,38.99 523.12,38.99 523.48,38.99 523.85,38.99 524.21,38.99 524.58,38.99 524.94,38.99 525.30,38.99 525.67,38.99 526.03,38.99 526.40,38.99 526.76,38.99 527.12,38.99 527.49,38.99 527.85,38.99 528.22,38.99 528.58,38.99 528.94,38.99 529.31,38.99 529.67,38.99 530.04,38.99 530.40,38.99 530.76,38.99 531.13,38.99 531.49,38.99 531.86,38.99 532.22,38.99 532.58,38.99 532.95,38.99 533.31,38.99 533.68,38.99 534.04,38.99 534.40,38.99 534.77,38.99 535.13,38.99 535.50,38.99 535.86,38.99 536.22,38.99 536.59,38.99 536.95,38.99 537.32,38.99 537.68,38.99 538.04,38.99 538.41,38.99 538.77,38.99 539.14,38.99 539.50,38.99 539.86,38.99 540.23,38.99 540.59,38.99 540.96,38.99 541.32,38.99 541.68,38.99 542.05,38.99 542.41,38.99 542.78,38.99 543.14,38.99 543.50,38.99 543.87,38.99 544.23,38.99 544.60,38.99 544.96,38.99 545.32,38.99 545.69,38.99 546.05,38.99 546.42,38.99 546.78,39.00 547.14,39.00 547.51,39.00 547.87,39.00 548.24,39.00 548.60,39.00 548.96,39.00 549.33,39.00 549.69,39.00 550.06,39.00 550.42,39.00 550.78,39.00 551.15,39.00 551.51,39.00 551.88,39.00 552.24,39.00 552.60,39.00 552.97,39.00 553.33,39.00 553.70,39.00 554.06,39.00 554.42,39.00 554.79,39.00 555.15,39.00 555.52,39.00 555.88,39.00 556.24,39.00 556.61,39.00 556.97,39.01 557.34,39.01 557.70,39.01 558.06,39.01 558.43,39.01 558.79,39.01 559.16,39.01 559.52,39.01 559.88,39.01 560.25,39.01 560.61,39.01 560.98,39.01 561.34,39.01 561.70,39.01 562.07,39.02 562.43,39.02 562.80,39.02 563.16,39.02 563.52,39.02 563.89,39.02 564.25,39.02 564.62,39.02 564.98,39.02 565.34,39.03 565.71,39.03 566.07,39.03 566.44,39.03 566.80,39.03 567.16,39.03 567.53,39.03 567.89,39.04 568.26,39.04 568.62,39.04 568.98,39.04 569.35,39.04 569.71,39.05 570.08,39.05 570.44,39.05 570.80,39.05 571.17,39.05 571.53,39.06 571.90,39.06 572.26,39.06 572.62,39.06 572.99,39.07 573.35,39.07 573.72,39.07 574.08,39.08 574.44,39.08 574.81,39.08 575.17,39.09 575.54,39.09 575.90,39.09 576.26,39.10 576.63,39.10 576.99,39.11 577.36,39.11 577.72,39.11 578.08,39.12 578.45,39.12 578.81,39.13 579.18,39.13 579.54,39.14 579.90,39.14 580.27,39.15 580.63,39.16 581.00,39.16 581.36,39.17 581.72,39.17 582.09,39.18 582.45,39.19 582.82,39.20 583.18,39.20 583.54,39.21 583.91,39.22 584.27,39.23 584.64,39.24 585.00,39.25 585.36,39.25 585.73,39.26 586.09,39.27 586.46,39.29 586.82,39.30 587.18,39.31 587.55,39.32 587.91,39.33 588.28,39.34 588.64,39.36 589.00,39.37 589.37,39.38 589.73,39.40 590.10,39.41 590.46,39.43 590.82,39.44 591.19,39.46 591.55,39.48 591.92,39.50 592.28,39.51 592.64,39.53 593.01,39.55 593.37,39.57 593.74,39.60 594.10,39.62 594.46,39.64 594.83,39.66 595.19,39.69 595.56,39.72 595.92,39.74 596.28,39.77 596.65,39.80 597.01,39.83 597.38,39.86 597.74,39.89 598.10,39.92 598.47,39.96 598.83,39.99 599.20,40.03 599.56,40.07 599.92,40.11 600.29,40.15 600.65,40.19 601.02,40.23 601.38,40.28 601.74,40.32 602.11,40.37 602.47,40.42 602.84,40.47 603.20,40.53 603.56,40.58 603.93,40.64 604.29,40.70 604.66,40.77 605.02,40.83 605.38,40.90 605.75,40.97 606.11,41.04 606.48,41.11 606.84,41.19 607.20,41.27 607.57,41.35 607.93,41.44 608.30,41.53 608.66,41.62 609.02,41.71 609.39,41.81 609.75,41.91 610.12,42.02 610.48,42.13 610.84,42.24 611.21,42.36 611.57,42.48 611.94,42.61 612.30,42.74 612.66,42.87 613.03,43.01 613.39,43.16 613.76,43.31 614.12,43.46 614.48,43.62 614.85,43.79 615.21,43.96 615.58,44.14 615.94,44.32 616.30,44.51 616.67,44.71 617.03,44.91 617.40,45.12 617.76,45.34 618.12,45.57 618.49,45.80 618.85,46.04 619.22,46.29 619.58,46.55 619.94,46.81 620.31,47.09 620.67,47.38 621.04,47.67 621.40,47.98 621.76,48.29 622.13,48.62 622.49,48.95 622.86,49.30 623.22,49.66 623.58,50.03 623.95,50.41 624.31,50.81 624.68,51.22 625.04,51.64 625.40,52.07 625.77,52.52 626.13,52.99 626.50,53.47 626.86,53.96 627.22,54.47 627.59,54.99 627.95,55.53 628.32,56.09 628.68,56.67 629.04,57.26 629.41,57.87 629.77,58.50 630.14,59.15 630.50,59.82 630.86,60.50 631.23,61.21 631.59,61.94 631.96,62.68 632.32,63.45 632.68,64.24 633.05,65.06 633.41,65.89 633.78,66.75 634.14,67.63 634.50,68.54 634.87,69.47 635.23,70.42 635.60,71.40 635.96,72.40 636.32,73.43 636.69,74.48 637.05,75.56 637.42,76.66 637.78,77.79 638.14,78.95 638.51,80.13 638.87,81.34 639.24,82.58 639.60,83.84 639.96,85.13 640.33,86.45 640.69,87.79 641.06,89.16 641.42,90.56 641.78,91.98 642.15,93.43 642.51,94.90 642.88,96.40 643.24,97.93 643.60,99.48 643.97,101.05 644.33,102.65 644.70,104.27 645.06,105.92 645.42,107.59 645.79,109.28 646.15,110.99 646.52,112.72 646.88,114.47 647.24,116.23 647.61,118.02 647.97,119.82 648.34,121.64 648.70,123.48 649.06,125.33 649.43,127.19 649.79,129.06 650.16,130.94 650.52,132.84 650.88,134.74 651.25,136.65 651.61,138.56 651.98,140.48 652.34,142.41 652.70,144.33 653.07,146.26 653.43,148.19 653.80,150.11 654.16,152.04 654.52,153.96 654.89,155.87 655.25,157.78 655.62,159.68 655.98,161.57 656.34,163.45 656.71,165.32 657.07,167.18 657.44,169.03 657.80,170.86 658.16,172.67 658.53,174.47 658.89,176.26 659.26,178.02 659.62,179.77 659.98,181.49 660.35,183.20 660.71,184.89 661.08,186.55 661.44,188.19 661.80,189.81 662.17,191.40 662.53,192.97 662.90,194.52 663.26,196.04 663.62,197.53 663.99,199.00 664.35,200.44 664.72,201.86 665.08,203.25 665.44,204.62 665.81,205.95 666.17,207.26 666.54,208.55 666.90,209.81 667.26,211.04 667.63,212.24 667.99,213.42 668.36,214.57 668.72,215.70 669.08,216.80 669.45,217.87 669.81,218.92 670.18,219.94 670.54,220.94 670.90,221.91 671.27,222.86 671.63,223.78 672.00,224.68 672.36,225.56 672.72,226.41 673.09,227.24 673.45,228.05 673.82,228.84 674.18,229.60 674.54,230.35 674.91,231.07 675.27,231.77 675.64,232.46 676.00,233.12 676.36,233.76 676.73,234.39 677.09,235.00 677.46,235.59 677.82,236.16 678.18,236.71 678.55,237.25 678.91,237.77 679.28,238.28 679.64,238.77 680.00,239.24 680.37,239.70 680.73,240.15 681.10,240.58 681.46,241.00 681.82,241.41 682.19,241.80 682.55,242.18 682.92,242.55 683.28,242.91 683.64,243.25 684.01,243.59 684.37,243.91 684.74,244.22 685.10,244.53 685.46,244.82 685.83,245.10 686.19,245.38 686.56,245.64 686.92,245.90 687.28,246.15 687.65,246.39 688.01,246.62 688.38,246.84 688.74,247.06 689.10,247.27 689.47,247.47 689.83,247.67 690.20,247.85 690.56,248.04 690.92,248.21 691.29,248.38 691.65,248.55 692.02,248.71 692.38,248.86 692.74,249.01 693.11,249.15 693.47,249.29 693.84,249.43 694.20,249.56 694.56,249.68 694.93,249.80 695.29,249.92 695.66,250.03 696.02,250.14 696.38,250.24 696.75,250.35 697.11,250.44 697.48,250.54 697.84,250.63 698.20,250.72 698.57,250.80 698.93,250.88 699.30,250.96 699.66,251.04 700.02,251.11 700.39,251.18 700.75,251.25 701.12,251.32 701.48,251.38 701.84,251.45 702.21,251.51 702.57,251.56 702.94,251.62 703.30,251.67 703.66,251.72 704.03,251.77 704.39,251.82 704.76,251.87 705.12,251.91 705.48,251.96 705.85,252.00 706.21,252.04 706.58,252.08 706.94,252.12 707.30,252.15 707.67,252.19 708.03,252.22 708.40,252.25 708.76,252.29 709.12,252.32 709.49,252.35 709.85,252.37 710.22,252.40 710.58,252.43 710.94,252.45 711.31,252.48 711.67,252.50 712.04,252.52 712.40,252.55" fill="none" stroke="#0070c0" stroke-width="2.5"/>
<circle cx="457.60" cy="41.20" r="3.4" fill="#000000"/>
<circle cx="530.40" cy="41.20" r="3.4" fill="#000000"/>
<circle cx="544.90" cy="41.20" r="3.4" fill="#000000"/>
<line x1="567.00" y1="40.40" x2="567.00" y2="57.20" stroke="#000000" stroke-width="2.2"/><line x1="562.25" y1="40.40" x2="571.75" y2="40.40" stroke="#000000" stroke-width="2.2"/><line x1="562.25" y1="57.20" x2="571.75" y2="57.20" stroke="#000000" stroke-width="2.2"/>
<circle cx="567.00" cy="48.80" r="3.4" fill="#000000"/>
<circle cx="598.30" cy="41.20" r="3.4" fill="#000000"/>
<circle cx="624.60" cy="223.50" r="3.4" fill="#000000"/>
<circle cx="712.30" cy="269.30" r="3.4" fill="#000000"/>
<line x1="251.50" y1="118" x2="264.00" y2="118" stroke="#000000" stroke-width="1.7"/>
<circle cx="257.70" cy="118.00" r="2.5" fill="#000000"/>
<text transform="translate(277.10,121.46) scale(0.9657,1)" style="font-family:'Liberation Sans',sans-serif;font-weight:bold;font-size:14.37px">BsCotA</text>
<line x1="251.50" y1="138.8" x2="264.00" y2="138.8" stroke="#ff0000" stroke-width="1.7"/>
<rect x="255.30" y="136.40" width="4.8" height="4.8" fill="#ff0000"/>
<text transform="translate(277.04,143.75) scale(0.9889,1)" style="font-family:'Liberation Sans',sans-serif;font-weight:bold;font-size:15.00px">F-09</text>
<line x1="252.80" y1="159.2" x2="265.30" y2="159.2" stroke="#0070c0" stroke-width="1.7"/>
<polygon points="258.80,155.39 255.50,161.11 262.10,161.11" fill="#0070c0"/>
<text transform="translate(277.03,164.75) scale(0.9949,1)" style="font-family:'Liberation Sans',sans-serif;font-weight:bold;font-size:15.00px">F-28</text>
<line x1="672.00" y1="118" x2="684.50" y2="118" stroke="#000000" stroke-width="1.7"/>
<circle cx="678.20" cy="118.00" r="2.5" fill="#000000"/>
<text transform="translate(697.40,121.46) scale(0.9657,1)" style="font-family:'Liberation Sans',sans-serif;font-weight:bold;font-size:14.37px">BsCotA</text>
<line x1="672.00" y1="138.8" x2="684.50" y2="138.8" stroke="#ff0000" stroke-width="1.7"/>
<rect x="675.80" y="136.40" width="4.8" height="4.8" fill="#ff0000"/>
<text transform="translate(697.34,143.75) scale(0.9889,1)" style="font-family:'Liberation Sans',sans-serif;font-weight:bold;font-size:15.00px">F-09</text>
<line x1="673.30" y1="159.2" x2="685.80" y2="159.2" stroke="#0070c0" stroke-width="1.7"/>
<polygon points="679.30,155.39 676.00,161.11 682.60,161.11" fill="#0070c0"/>
<text transform="translate(697.33,164.75) scale(0.9949,1)" style="font-family:'Liberation Sans',sans-serif;font-weight:bold;font-size:15.00px">F-28</text>
</svg>
</body></html>
